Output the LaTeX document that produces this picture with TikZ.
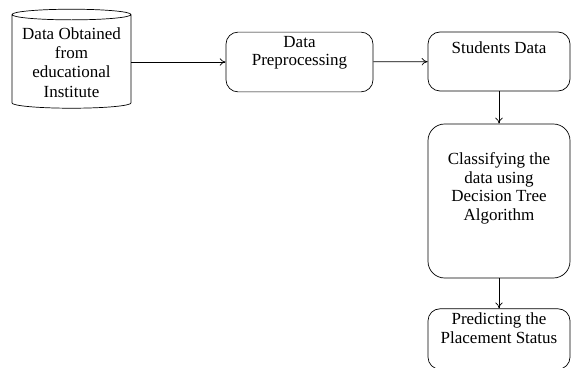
\documentclass[tikz,border=0pt]{standalone}
\usepackage{fontspec}
\setmainfont{Liberation Serif}
\usetikzlibrary{shapes.geometric,arrows.meta}
\tikzset{
  >={To[length=1.8mm,width=2.2mm]},
  stage/.style={draw, rounded corners=3.6mm, align=center, minimum width=42.6mm, font=\fontsize{14.5}{16}\selectfont},
  store/.style={draw, cylinder, shape border rotate=90, aspect=0.1, minimum width=35.7mm, minimum height=29.7mm, align=center, font=\fontsize{14.5}{16.5}\selectfont}
}
\begin{document}
\begin{tikzpicture}[x=0.3mm,y=-0.3mm, line width=0.6pt]
\useasboundingbox (0,0) rectangle (571,368);
\node[store] (src) at (71.5,62.5) {Data Obtained\\from\\educational\\Institute};
\node[stage, minimum width=44.1mm, minimum height=17.4mm] (prep) at (299.5,62) {Data\\Preprocessing\\[1mm]};
\node[stage, minimum height=17.7mm] (stud) at (499,61.5) {Students Data\\[3mm]};
\node[stage, rounded corners=5mm, minimum height=46.2mm] (cls) at (499,201) {Classifying the\\data using\\Decision Tree\\Algorithm\\[3mm]};
\node[stage, minimum height=16.2mm] (pred) at (499,339) {Predicting the\\Placement Status\\[1mm]};
\draw[->] (src.east |- prep.west) -- (prep.west);
\draw[->] (prep) -- (stud);
\draw[->] (stud) -- (cls);
\draw[->] (cls) -- (pred);
\end{tikzpicture}
\end{document}
